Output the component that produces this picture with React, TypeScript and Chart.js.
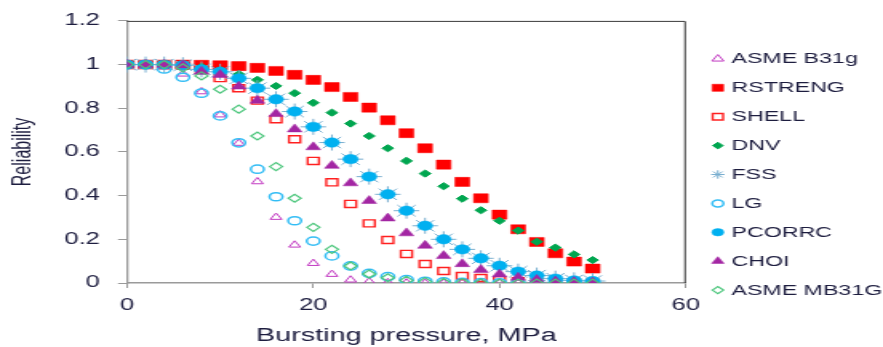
import { useEffect, useRef } from 'react';
import { Chart, registerables } from 'chart.js';
import { drawPoint } from 'chart.js/helpers';

Chart.register(...registerables);

// ---------------- data ----------------
const pressure = [0, 2, 4, 6, 8, 10, 12, 14, 16, 18, 20, 22, 24, 26, 28, 30, 32, 34, 36, 38, 40, 42, 44, 46, 48, 50];

const asmeB31g = [1, 1, 0.99, 0.957, 0.876, 0.77, 0.64, 0.464, 0.301, 0.174, 0.09, 0.04, 0.014, 0.006, 0.002, 0.001, 0, 0, 0, 0, 0, 0, 0, 0, 0, 0];
const rstreng = [1, 1, 1, 1, 0.999, 0.997, 0.993, 0.985, 0.971, 0.953, 0.93, 0.897, 0.852, 0.803, 0.745, 0.686, 0.617, 0.542, 0.463, 0.388, 0.313, 0.246, 0.188, 0.136, 0.098, 0.066];
const shell = [1, 1, 1, 0.995, 0.975, 0.938, 0.892, 0.835, 0.75, 0.658, 0.559, 0.461, 0.362, 0.273, 0.197, 0.133, 0.087, 0.055, 0.032, 0.023, 0.013, 0.008, 0.005, 0.003, 0.002, 0.001];
const dnv = [1, 1, 1, 0.998, 0.99, 0.976, 0.956, 0.93, 0.902, 0.869, 0.825, 0.78, 0.73, 0.673, 0.617, 0.559, 0.501, 0.443, 0.386, 0.333, 0.285, 0.24, 0.189, 0.162, 0.131, 0.105];
const fss = [1, 1, 1, 0.997, 0.978, 0.967, 0.937, 0.892, 0.841, 0.785, 0.715, 0.643, 0.567, 0.487, 0.406, 0.331, 0.262, 0.2, 0.154, 0.113, 0.079, 0.052, 0.034, 0.02, 0.012, 0.009];
const lg = [1, 1, 0.98, 0.942, 0.869, 0.765, 0.642, 0.521, 0.395, 0.285, 0.192, 0.124, 0.078, 0.044, 0.029, 0.015, 0.008, 0.005, 0.003, 0.002, 0.001, 0.001, 0, 0, 0, 0];
const pcorrc = [1, 1, 1, 0.997, 0.978, 0.967, 0.937, 0.892, 0.841, 0.785, 0.715, 0.643, 0.567, 0.487, 0.406, 0.331, 0.262, 0.2, 0.154, 0.113, 0.079, 0.052, 0.034, 0.02, 0.012, 0.009];
const choi = [1, 1, 1, 0.997, 0.968, 0.953, 0.9, 0.835, 0.774, 0.704, 0.622, 0.537, 0.457, 0.376, 0.296, 0.228, 0.171, 0.124, 0.087, 0.06, 0.04, 0.025, 0.015, 0.008, 0.005, 0.003];
const asmeMB31G = [1, 1, 1, 0.985, 0.948, 0.887, 0.796, 0.673, 0.533, 0.388, 0.255, 0.154, 0.078, 0.041, 0.024, 0.012, 0.006, 0.003, 0.002, 0.001, 0, 0, 0, 0, 0, 0];

const seriesNames = ['ASME B31g', 'RSTRENG', 'SHELL', 'DNV', 'FSS', 'LG', 'PCORRC', 'CHOI', 'ASME MB31G'];
const seriesValues = [asmeB31g, rstreng, shell, dnv, fss, lg, pcorrc, choi, asmeMB31G];

const xTickValues = [0, 20, 40, 60];
const yTickValues = [0, 0.2, 0.4, 0.6, 0.8, 1, 1.2];

const xTitle = 'Bursting pressure, MPa';
const yTitle = 'Reliability';

// ---------------- styles ----------------
const NONE = 'rgba(0,0,0,0)';
const styles = [
  { pointStyle: 'triangle', radius: 4.2, legendRadius: 4.3, fill: NONE, stroke: '#c23bc2', bw: 1 },
  { pointStyle: 'rect', radius: 6.4, legendRadius: 5, fill: '#ff0000', stroke: '#ff0000', bw: 0.5 },
  { pointStyle: 'rect', radius: 5, legendRadius: 4.6, fill: NONE, stroke: '#ff2020', bw: 1.4 },
  { pointStyle: 'rectRot', radius: 3.6, legendRadius: 3.3, fill: '#00a650', stroke: '#00a650', bw: 1 },
  { pointStyle: 'star', radius: 8, legendRadius: 4.2, fill: '#79aecf', stroke: '#79aecf', bw: 1 },
  { pointStyle: 'circle', radius: 4.1, legendRadius: 3.5, fill: NONE, stroke: '#33bdf5', bw: 1.5 },
  { pointStyle: 'circle', radius: 4.7, legendRadius: 3.7, fill: '#00b0f0', stroke: '#00b0f0', bw: 0.5 },
  { pointStyle: 'triangle', radius: 5.3, legendRadius: 4.5, fill: '#a326a3', stroke: '#a326a3', bw: 0.5 },
  { pointStyle: 'rectRot', radius: 4, legendRadius: 3.5, fill: NONE, stroke: '#4cc67c', bw: 1.2 },
];

// reference is horizontally stretched: draw narrow, display wide
const STRETCH = 1.6;
const OUT_W = 883;
const OUT_H = 347;
const W = Math.round(OUT_W / STRETCH);
const H = OUT_H;

const TEXT = '#1d1d3f';
const FONT = '"Liberation Sans", Arial, sans-serif';
const AXIS = '#9a9a9a';

const frameLegendPlugin = {
  id: 'frameLegend',
  afterDraw(chart: any) {
    const { ctx, chartArea } = chart;
    const { left, right, top, bottom } = chartArea;
    ctx.save();
    ctx.strokeStyle = '#3a3a3a';
    ctx.lineWidth = 1;
    ctx.beginPath();
    ctx.moveTo(left, top + 0.5);
    ctx.lineTo(right - 0.5, top + 0.5);
    ctx.lineTo(right - 0.5, bottom);
    ctx.stroke();

    const markerX = right + 20;
    const textX = right + 28.5;
    chart.data.datasets.forEach((ds: any, i: number) => {
      const y = top + 38 + i * 28.9;
      const st = styles[i];
      ctx.fillStyle = st.fill;
      ctx.strokeStyle = st.stroke;
      ctx.lineWidth = st.bw;
      drawPoint(ctx, { pointStyle: st.pointStyle, radius: st.legendRadius, borderWidth: st.bw, rotation: 0 } as any, markerX, y);
      ctx.fillStyle = TEXT;
      ctx.font = `14.5px ${FONT}`;
      ctx.textAlign = 'left';
      ctx.textBaseline = 'middle';
      ctx.fillText(ds.label, textX, y + 0.5);
    });
    ctx.restore();
  },
};

export default function App() {
  const canvasRef = useRef<HTMLCanvasElement | null>(null);

  useEffect(() => {
    const canvas = canvasRef.current;
    if (!canvas) return;
    const n = seriesNames.length;
    const datasets = seriesNames.map((name, i) => ({
      label: name,
      data: pressure.map((p, k) => ({ x: p, y: seriesValues[i][k] })),
      showLine: false,
      pointStyle: styles[i].pointStyle,
      pointRadius: styles[i].radius,
      pointHoverRadius: styles[i].radius,
      pointBackgroundColor: styles[i].fill,
      pointBorderColor: styles[i].stroke,
      pointBorderWidth: styles[i].bw,
      backgroundColor: styles[i].fill,
      borderColor: styles[i].stroke,
      borderWidth: styles[i].bw,
      order: n - i,
    }));

    const chart = new Chart(canvas, {
      type: 'scatter',
      data: { datasets },
      options: {
        animation: false,
        responsive: false,
        devicePixelRatio: 1,
        events: [],
        layout: { padding: { top: 20, right: W - 428.75, left: 0, bottom: 0 } },
        plugins: {
          legend: { display: false },
          tooltip: { enabled: false },
          title: { display: false },
        },
        scales: {
          x: {
            type: 'linear',
            min: xTickValues[0],
            max: xTickValues[xTickValues.length - 1],
            ticks: {
              stepSize: xTickValues[1] - xTickValues[0],
              color: TEXT,
              font: { family: FONT, size: 16 },
              padding: 8,
              callback: (v: any) => String(v),
            },
            grid: { drawOnChartArea: false, drawTicks: true, tickLength: 5, color: AXIS, lineWidth: 1 },
            border: { display: true, color: AXIS, width: 1.5 },
            title: {
              display: true,
              text: xTitle,
              color: TEXT,
              font: { family: FONT, size: 18 },
              padding: { top: 0, bottom: 0 },
            },
            afterFit: (scale: any) => {
              scale.height = 64;
            },
          },
          y: {
            type: 'linear',
            min: yTickValues[0],
            max: yTickValues[yTickValues.length - 1],
            ticks: {
              stepSize: yTickValues[1] - yTickValues[0],
              color: TEXT,
              font: { family: FONT, size: 16 },
              padding: 11.3,
              callback: (v: any) => String(Math.round(Number(v) * 10) / 10),
            },
            grid: { drawOnChartArea: false, drawTicks: true, tickLength: 5.6, color: AXIS, lineWidth: 1 },
            border: { display: true, color: AXIS, width: 1.3 },
            title: {
              display: true,
              text: yTitle,
              color: TEXT,
              font: { family: FONT, size: 16 },
              padding: { top: 4.8, bottom: 0 },
            },
            afterFit: (scale: any) => {
              scale.width = 127 / STRETCH;
            },
          },
        },
      },
      plugins: [frameLegendPlugin],
    } as any);

    return () => {
      chart.destroy();
    };
  }, []);

  return (
    <div style={{ position: 'absolute', left: 0, top: 0, width: OUT_W, height: OUT_H, background: '#fff' }}>
      <canvas
        ref={canvasRef}
        width={W}
        height={H}
        style={{ width: `${OUT_W}px`, height: `${OUT_H}px`, display: 'block' }}
      />
    </div>
  );
}
